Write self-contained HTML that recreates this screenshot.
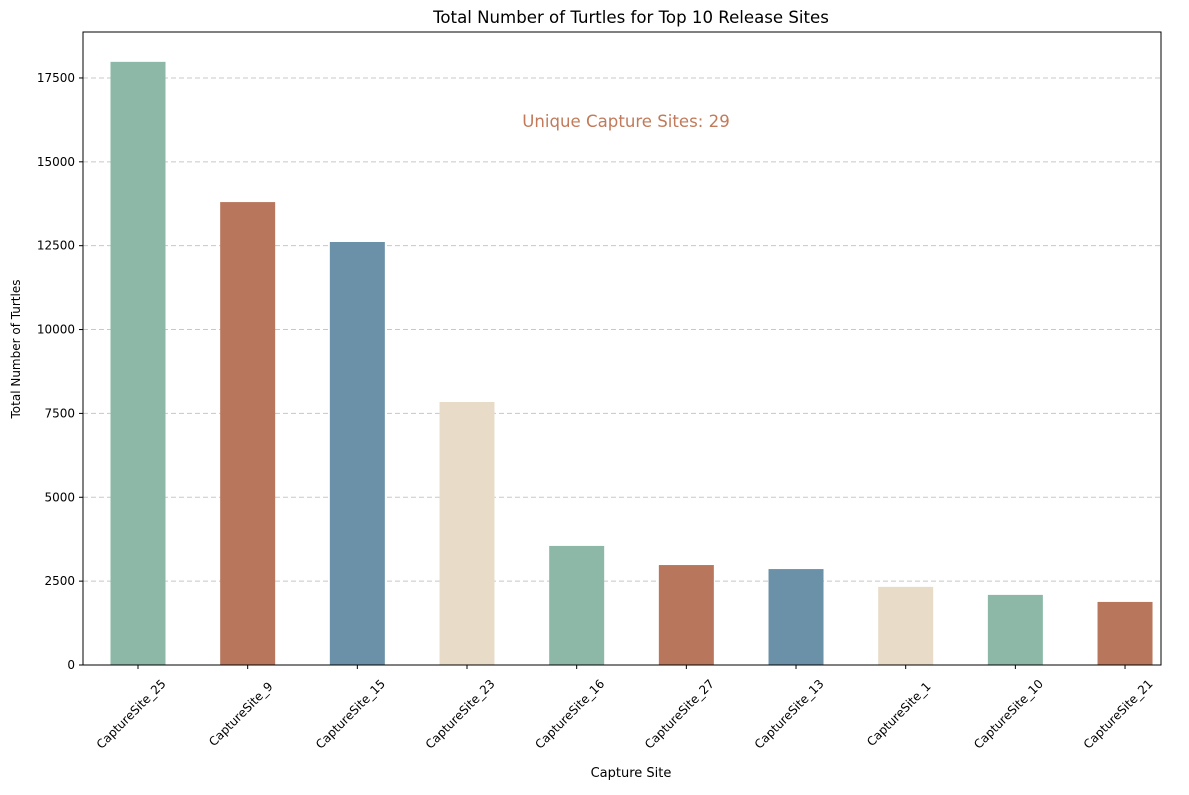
<!DOCTYPE html>
<html><head><meta charset="utf-8"><style>
body{margin:0;background:#fff;}
svg text{font-family:"DejaVu Sans","Liberation Sans",sans-serif;}
</style></head><body>
<svg id="chart" width="1189" height="790" viewBox="0 0 1189 790">
<rect width="1189" height="790" fill="#fff"/>
<g id="grid"></g>
<g id="bars"></g>
<g id="axes"></g>
<text x="631" y="23" text-anchor="middle" font-size="16.6" fill="#000">Total Number of Turtles for Top 10 Release Sites</text>
<text x="626" y="127" text-anchor="middle" font-size="16.6" fill="#c27a5b">Unique Capture Sites: 29</text>
<text x="631" y="777" text-anchor="middle" font-size="13">Capture Site</text>
<text transform="translate(20,349) rotate(-90)" text-anchor="middle" font-size="12">Total Number of Turtles</text>
</svg>
<script>
const categories=["CaptureSite_25","CaptureSite_9","CaptureSite_15","CaptureSite_23","CaptureSite_16","CaptureSite_27","CaptureSite_13","CaptureSite_1","CaptureSite_10","CaptureSite_21"];
const values=[17980,13800,12610,7840,3550,2980,2860,2330,2090,1880];
const yTicks=[0,2500,5000,7500,10000,12500,15000,17500];
const colors=["#8db8a7","#b8775d","#6b91a9","#e8dcc9"];
const L=83,R=1161,T=32,B=665,yMax=18870;
const ns="http://www.w3.org/2000/svg";
const y=v=>B-(v/yMax)*(B-T);
const x0=138,step=109.67;
const x=i=>x0+step*i;
function mk(tag,attrs,parent,txt){const e=document.createElementNS(ns,tag);for(const k in attrs)e.setAttribute(k,attrs[k]);if(txt!==undefined)e.textContent=txt;parent.appendChild(e);return e;}
const grid=document.getElementById('grid'),bars=document.getElementById('bars'),axes=document.getElementById('axes');
yTicks.forEach(t=>{
  const g=mk('line',{x1:L,x2:R,y1:y(t),y2:y(t),stroke:'#c8c8c8','stroke-dasharray':'5,3','stroke-width':1},grid);
  
  
  const tk=mk('line',{x1:L-4,x2:L,y1:y(t),y2:y(t),stroke:'#000'},axes);
  
  
  const lb=mk('text',{x:L-8,y:y(t)+4,'text-anchor':'end','font-size':12},axes,String(t));
  
  
});
const bw=55;
values.forEach((v,i)=>{
  const r=mk('rect',{x:x(i)-bw/2,y:y(v),width:bw,height:B-y(v),fill:colors[i%4]},bars);
  
  
  const tk=mk('line',{x1:x(i),x2:x(i),y1:B,y2:B+4,stroke:'#000'},axes);
  
  
  const lb=mk('text',{transform:`translate(${x(i)-4},${B+52}) rotate(-45)`,'text-anchor':'middle','font-size':12},axes,categories[i]);
  
  
});
const fr=mk('rect',{x:L,y:T,width:R-L,height:B-T,fill:'none',stroke:'#000','stroke-width':1},axes);


</script>
</body></html>
